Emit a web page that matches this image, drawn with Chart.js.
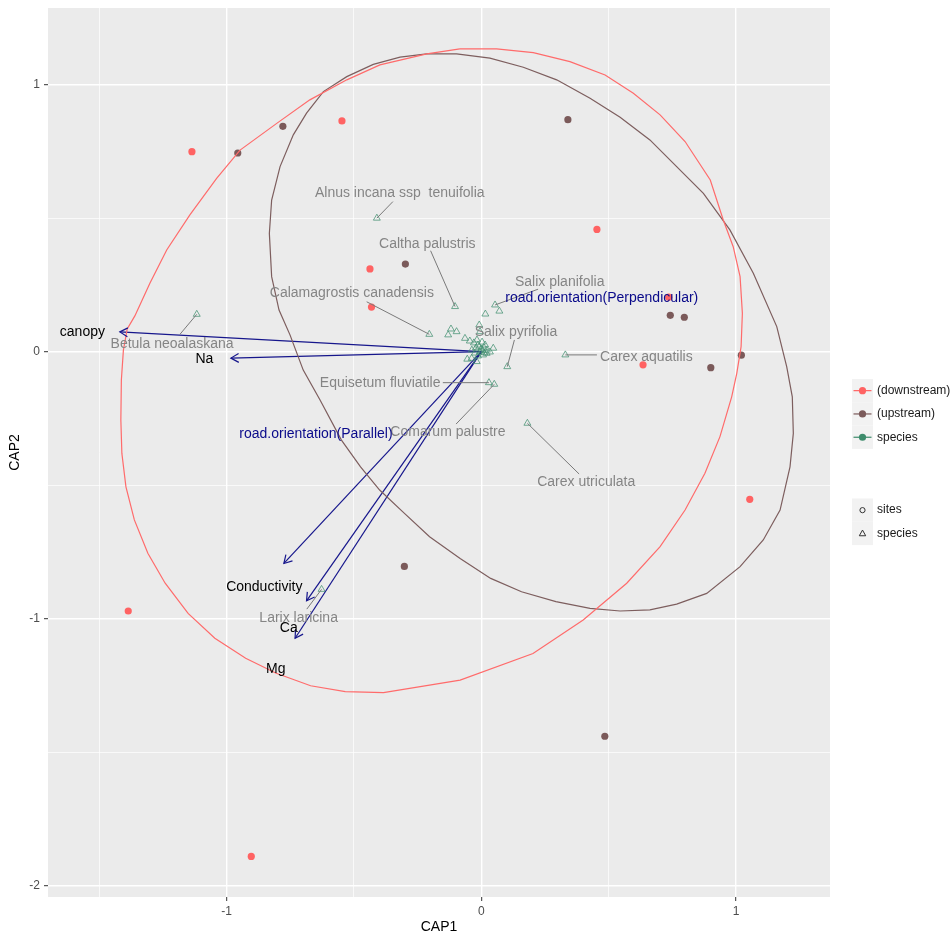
<!DOCTYPE html>
<html><head><meta charset="utf-8">
<script src="https://cdn.jsdelivr.net/npm/chart.js@4.4.0/dist/chart.umd.min.js"></script>
<style>html,body{margin:0;padding:0;background:#fff;}</style>
</head><body>
<canvas id="c" width="950" height="936"></canvas>
<script>
// ---- data ----
const downX = [-1.136, -0.547, -0.437, -0.431, 0.454, 0.635, 0.736, 1.054, -1.386, -0.903];
const downY = [0.749, 0.864, 0.310, 0.167, 0.458, -0.049, 0.204, -0.553, -0.971, -1.890];
const upX = [-0.956, -0.779, -0.298, 0.340, 0.742, 0.797, 0.901, 1.021, -0.302, 0.485];
const upY = [0.744, 0.844, 0.328, 0.869, 0.136, 0.129, -0.060, -0.013, -0.804, -1.440];

const spX = [-0.410, -0.103, -0.204, -1.117, 0.054, 0.102, 0.330, 0.030, 0.051, 0.181, -0.627,
  0.071, 0.016, -0.119, -0.097, -0.130, -0.064, -0.008, -0.005, 0.047, -0.055, -0.038, -0.018, 0.021,
  -0.013, 0.003, 0.011, -0.021, -0.005, 0.022, -0.029, 0.007, -0.013, 0.034, -0.037, 0.015, 0.000,
  -0.017, 0.005, -0.008, 0.012, -0.045, -0.025];
const spY = [0.500, 0.169, 0.065, 0.140, 0.175, -0.056, -0.012, -0.116, -0.122, -0.268, -0.890,
  0.152, 0.141, 0.085, 0.075, 0.063, 0.050, 0.100, 0.075, 0.013, -0.028, -0.025, -0.037, -0.006,
  0.025, 0.036, 0.014, 0.014, -0.001, 0.006, 0.033, -0.012, -0.016, -0.001, 0.006, 0.025, 0.010,
  0.044, 0.005, 0.018, -0.004, 0.040, -0.005];

const spLabels = ["Alnus incana ssp  tenuifolia", "Caltha palustris", "Calamagrostis canadensis",
  "Betula neoalaskana", "Salix planifolia", "Salix pyrifolia", "Carex aquatilis",
  "Equisetum fluviatile", "Comarum palustre", "Carex utriculata", "Larix laricina"];
const spLabelX = [-0.320, -0.212, -0.508, -1.214, 0.308, 0.136, 0.648, -0.397, -0.131, 0.412, -0.717];
const spLabelY = [0.593, 0.403, 0.219, 0.028, 0.262, 0.075, -0.019, -0.116, -0.303, -0.489, -0.999];
const spSegX = [-0.347, -0.199, -0.450, -1.183, 0.223, 0.130, 0.454, -0.151, -0.099, 0.384, -0.685];
const spSegY = [0.562, 0.378, 0.187, 0.065, 0.234, 0.044, -0.012, -0.116, -0.271, -0.458, -0.964];

const envX = [-1.419, -0.983, -0.775, -0.686, -0.731];
const envY = [0.074, -0.024, -0.793, -0.933, -1.073];
const envLabels = ["canopy", "Na", "Conductivity", "Ca", "Mg", "road.orientation(Parallel)", "road.orientation(Perpendicular)"];
const envLabelX = [-1.566, -1.087, -0.852, -0.756, -0.807, -0.649, 0.473];
const envLabelY = [0.074, -0.027, -0.880, -1.034, -1.190, -0.308, 0.201];

const redEllX = [-0.084, 0.060, 0.204, 0.348, 0.486, 0.597, 0.702, 0.800, 0.899, 0.950, 0.989, 1.016, 1.025, 1.020, 1.003, 0.983, 0.937, 0.878, 0.800, 0.702, 0.571, 0.400, 0.203, -0.083, -0.384, -0.534, -0.670, -0.805, -0.925, -1.046, -1.151, -1.241, -1.309, -1.362, -1.395, -1.411, -1.415, -1.413, -1.405, -1.390, -1.360, -1.301, -1.235, -1.144, -1.039, -0.947, -0.803, -0.673, -0.528, -0.398, -0.214, -0.084];
const redEllY = [1.134, 1.134, 1.120, 1.086, 1.036, 0.968, 0.887, 0.787, 0.643, 0.493, 0.393, 0.281, 0.144, 0.019, -0.081, -0.169, -0.318, -0.455, -0.593, -0.730, -0.867, -1.005, -1.130, -1.230, -1.277, -1.273, -1.251, -1.204, -1.148, -1.073, -0.980, -0.867, -0.755, -0.630, -0.506, -0.381, -0.256, -0.106, 0.006, 0.085, 0.134, 0.256, 0.381, 0.512, 0.649, 0.755, 0.855, 0.943, 1.018, 1.074, 1.115, 1.134];
const brnEllX = [-0.319, -0.214, -0.097, 0.034, 0.165, 0.296, 0.427, 0.545, 0.662, 0.767, 0.872, 0.976, 1.068, 1.160, 1.199, 1.221, 1.225, 1.212, 1.173, 1.107, 1.016, 0.885, 0.767, 0.662, 0.545, 0.427, 0.293, 0.158, 0.037, -0.083, -0.203, -0.309, -0.399, -0.474, -0.549, -0.633, -0.699, -0.751, -0.794, -0.823, -0.832, -0.823, -0.790, -0.738, -0.686, -0.620, -0.528, -0.424, -0.319];
const brnEllY = [1.103, 1.115, 1.115, 1.099, 1.065, 1.018, 0.949, 0.878, 0.793, 0.693, 0.593, 0.456, 0.294, 0.094, -0.056, -0.169, -0.306, -0.431, -0.593, -0.705, -0.805, -0.905, -0.945, -0.967, -0.971, -0.961, -0.936, -0.899, -0.849, -0.774, -0.693, -0.599, -0.518, -0.431, -0.331, -0.181, -0.069, 0.063, 0.156, 0.281, 0.443, 0.568, 0.693, 0.812, 0.893, 0.974, 1.030, 1.076, 1.103];

const xGrid = [-1.5, -1, -0.5, 0, 0.5, 1];
const yGrid = [-2, -1.5, -1, -0.5, 0, 0.5, 1];
const legendGroups = ["(downstream)", "(upstream)", "species"];
const legendShapes = ["sites", "species"];

// ---- styles ----
const RED = "#FF6363", BRN = "#7B5A5A", GRN = "#3E8C6C";
const NAVY = "#16168C";
const FONT = '"Liberation Sans", Arial, sans-serif';

const pts = (xs, ys) => xs.map((x, i) => ({x, y: ys[i]}));

const datasets = [
  {data: pts(redEllX, redEllY), showLine: true, borderColor: "#FF6B6B", borderWidth: 1.2, pointRadius: 0, tension: 0, fill: false},
  {data: pts(brnEllX, brnEllY), showLine: true, borderColor: "#7D5E5E", borderWidth: 1.2, pointRadius: 0, tension: 0, fill: false},
  {data: pts(downX, downY), pointRadius: 3.6, backgroundColor: RED, borderColor: RED, borderWidth: 0},
  {data: pts(upX, upY), pointRadius: 3.6, backgroundColor: BRN, borderColor: BRN, borderWidth: 0},
  {data: pts(spX, spY), pointStyle: "triangle", pointRadius: 4, backgroundColor: "rgba(0,0,0,0)", borderColor: "rgba(70,145,115,0.75)", borderWidth: 1},
];
envX.forEach((x, i) => {
  datasets.push({data: [{x: 0, y: 0}, {x, y: envY[i]}], showLine: true, borderColor: NAVY, borderWidth: 1.2, pointRadius: 0});
});

const annot = {
  id: "annot",
  afterDatasetsDraw(chart) {
    const {ctx, scales: {x: sx, y: sy}} = chart;
    ctx.save();
    ctx.strokeStyle = NAVY; ctx.lineWidth = 1.2;
    envX.forEach((x, i) => {
      const px = sx.getPixelForValue(x), py = sy.getPixelForValue(envY[i]);
      const ox = sx.getPixelForValue(0), oy = sy.getPixelForValue(0);
      const a = Math.atan2(py - oy, px - ox);
      const L = 9;
      ctx.beginPath();
      ctx.moveTo(px - L * Math.cos(a - Math.PI / 6), py - L * Math.sin(a - Math.PI / 6));
      ctx.lineTo(px, py);
      ctx.lineTo(px - L * Math.cos(a + Math.PI / 6), py - L * Math.sin(a + Math.PI / 6));
      ctx.stroke();
    });
    ctx.strokeStyle = "#7a7a7a"; ctx.lineWidth = 1;
    spLabels.forEach((l, i) => {
      ctx.beginPath();
      ctx.moveTo(sx.getPixelForValue(spSegX[i]), sy.getPixelForValue(spSegY[i]));
      ctx.lineTo(sx.getPixelForValue(spX[i]), sy.getPixelForValue(spY[i]));
      ctx.stroke();
    });
    ctx.font = "14px " + FONT;
    ctx.textAlign = "center"; ctx.textBaseline = "middle";
    ctx.fillStyle = "#858585";
    spLabels.forEach((l, i) => ctx.fillText(l, sx.getPixelForValue(spLabelX[i]), sy.getPixelForValue(spLabelY[i])));
    envLabels.forEach((l, i) => {
      ctx.fillStyle = l.startsWith("road") ? "#0A0A8A" : "#000000";
      ctx.fillText(l, sx.getPixelForValue(envLabelX[i]), sy.getPixelForValue(envLabelY[i]));
    });
    ctx.restore();
  },
  afterDraw(chart) {
    const ctx = chart.ctx;
    ctx.save();
    const kx = 852, kw = 21, kh = 23.3;
    const cols = [RED, BRN, GRN];
    ctx.font = "12px " + FONT; ctx.textBaseline = "middle"; ctx.textAlign = "left";
    legendGroups.forEach((g, i) => {
      const top = 379 + i * kh;
      ctx.fillStyle = "#F2F2F2"; ctx.fillRect(kx, top, kw, kh);
      const cy = top + kh / 2;
      ctx.strokeStyle = cols[i]; ctx.lineWidth = 1.2;
      ctx.beginPath(); ctx.moveTo(kx + 1.5, cy); ctx.lineTo(kx + kw - 1.5, cy); ctx.stroke();
      ctx.fillStyle = cols[i]; ctx.beginPath(); ctx.arc(kx + kw / 2, cy, 3.6, 0, Math.PI * 2); ctx.fill();
      ctx.fillStyle = "#1a1a1a"; ctx.fillText(g, 877, cy);
    });
    legendShapes.forEach((s, i) => {
      const top = 498.5 + i * kh;
      ctx.fillStyle = "#F2F2F2"; ctx.fillRect(kx, top, kw, kh);
      const cx = kx + kw / 2, cy = top + kh / 2;
      ctx.strokeStyle = "#333"; ctx.lineWidth = 1;
      ctx.beginPath();
      if (i === 0) ctx.arc(cx, cy, 2.6, 0, Math.PI * 2);
      else { ctx.moveTo(cx, cy - 3.4); ctx.lineTo(cx + 3.2, cy + 2.3); ctx.lineTo(cx - 3.2, cy + 2.3); ctx.closePath(); }
      ctx.stroke();
      ctx.fillStyle = "#1a1a1a"; ctx.fillText(s, 877, cy);
    });
    ctx.restore();
  }
};

const panelBg = {
  id: "panelBg",
  beforeDraw(chart) {
    const {ctx, chartArea: a} = chart;
    ctx.save(); ctx.fillStyle = "#EBEBEB";
    ctx.fillRect(a.left, a.top, a.right - a.left, a.bottom - a.top);
    ctx.restore();
  }
};

const isMajor = v => Math.abs(v - Math.round(v)) < 1e-9;
const gridOpts = {
  color: "#FFFFFF",
  lineWidth: c => (c.tick && isMajor(c.tick.value)) ? 1.4 : 0.7,
  tickColor: c => (c.tick && isMajor(c.tick.value)) ? "#333333" : "rgba(0,0,0,0)",
  tickLength: 4, tickWidth: 1, drawTicks: true
};

new Chart(document.getElementById("c"), {
  type: "scatter",
  data: {datasets},
  options: {
    responsive: false, devicePixelRatio: 1, animation: false,
    layout: {padding: {top: 8, right: 120, left: 0, bottom: 0}},
    plugins: {legend: {display: false}, tooltip: {enabled: false}},
    scales: {
      x: {
        type: "linear", min: -1.701, max: 1.369,
        afterBuildTicks: s => { s.ticks = xGrid.map(v => ({value: v})); },
        afterFit: s => { s.height = 39; s.paddingLeft = 0; s.paddingRight = 0; },
        grid: gridOpts, border: {display: false},
        ticks: {callback: v => isMajor(v) ? String(v) : "", color: "#4D4D4D", font: {family: FONT, size: 12}, padding: 3, maxRotation: 0, autoSkip: false},
        title: {display: true, text: "CAP1", color: "#000", font: {family: FONT, size: 14}, padding: {top: 0, bottom: 0}}
      },
      y: {
        type: "linear", min: -2.042, max: 1.287,
        afterBuildTicks: s => { s.ticks = yGrid.map(v => ({value: v})); },
        afterFit: s => { s.width = 48; s.paddingTop = 0; s.paddingBottom = 0; },
        grid: gridOpts, border: {display: false},
        ticks: {callback: v => isMajor(v) ? String(v) : "", color: "#4D4D4D", font: {family: FONT, size: 12}, padding: 4, autoSkip: false},
        title: {display: true, text: "CAP2", color: "#000", font: {family: FONT, size: 14}, padding: {top: 7, bottom: 0}}
      }
    }
  },
  plugins: [panelBg, annot]
});
</script>
</body></html>
